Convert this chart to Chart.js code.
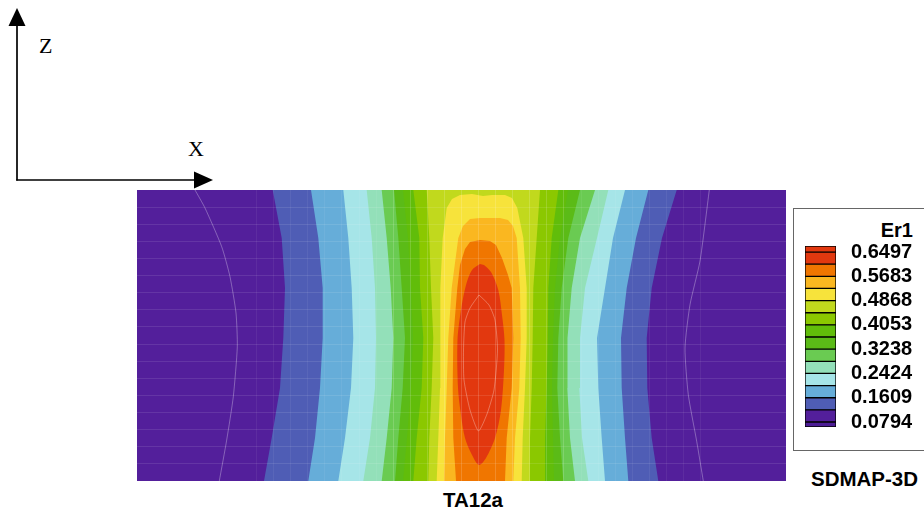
<!DOCTYPE html>
<html>
<head>
<meta charset="utf-8">
<script src="https://cdn.jsdelivr.net/npm/chart.js@4.4.0/dist/chart.umd.min.js"></script>
<style>
  body { margin: 0; width: 924px; height: 512px; background: #fff; position: relative; overflow: hidden; }
  canvas { position: absolute; }
  #mapChart { left: 137px; top: 190px; }
  #barChart { left: 805px; top: 236px; }
  .lbl { position: absolute; white-space: nowrap; line-height: 1; color: #000; }
  .sans { font-family: "Liberation Sans", Arial, sans-serif; font-weight: bold; }
  .serif { font-family: "Liberation Serif", "Times New Roman", serif; font-size: 22px; }
  #legendBox { position: absolute; left: 793px; top: 208px; width: 140px; height: 243px; border: 1px solid #666; box-sizing: border-box; }
</style>
</head>
<body>
<svg width="230" height="195" style="position:absolute;left:0;top:0">
  <line x1="17" y1="24" x2="17" y2="180.5" stroke="#000" stroke-width="1.7"/>
  <polygon points="17,8 8.5,26 25.5,26" fill="#000"/>
  <line x1="16.2" y1="180" x2="196" y2="180" stroke="#000" stroke-width="1.7"/>
  <polygon points="213,180 194,171.5 194,188.5" fill="#000"/>
</svg>
<div class="lbl serif" style="left:39px;top:35px">Z</div>
<div class="lbl serif" style="left:188px;top:138px">X</div>
<div id="legendBox"></div>
<div class="lbl sans" style="right:11px;top:220px;font-size:20px">Er1</div>
<div class="lbl sans" style="left:811px;top:469px;font-size:20.5px">SDMAP-3D</div>
<div class="lbl sans" style="left:443px;top:490px;font-size:20.5px">TA12a</div>
<canvas id="mapChart" width="649" height="291"></canvas>
<canvas id="barChart" width="119" height="201"></canvas>
<script>
// contour levels of Er1 and the colour of each band above a level
const levels = [0.0794, 0.1201, 0.1609, 0.2016, 0.2424, 0.2831, 0.3238, 0.3646, 0.4053, 0.4461, 0.4868, 0.5276, 0.5683, 0.6090, 0.6497];
const bandColors = ['#531f9b', '#4f5db5', '#66add9', '#a6e5e8', '#93e0b9', '#6acb52', '#5bbb17', '#61bd0a',
                    '#8bc800', '#c1d91d', '#f7e33b', '#fab720', '#f07600', '#e2380f'];
const capLow = '#4c1c95';
const capHigh = '#e2380f';
const tickLabels = ['0.0794', '0.1609', '0.2424', '0.3238', '0.4053', '0.4868', '0.5683', '0.6497'];

// section size (mm)
const xMax = 64.9;
const zMax = 29.1;

// heights where the strip boundaries were read
const zRows = [29.1, 24.3, 19.3, 14.3, 9.3, 4.3, 0];

// x of level 0.1201 ... 0.4461 left of the peak, one row per level
const leftBounds = [
  [13.57, 14.47, 14.8, 14.63, 14.3, 13.47, 12.7],
  [17.4, 18.13, 18.57, 18.57, 18.3, 17.8, 17.13],
  [20.63, 21.13, 21.47, 21.63, 21.4, 20.8, 20.13],
  [22.97, 23.47, 23.8, 23.9, 23.8, 23.3, 22.63],
  [24.47, 24.97, 25.37, 25.63, 25.47, 24.97, 24.47],
  [25.7, 26.13, 26.47, 26.8, 26.57, 26.13, 25.8],
  [26.6, 27.1, 27.4, 27.6, 27.4, 27.0, 26.6],
  [27.63, 28.23, 28.3, 28.63, 28.47, 27.97, 27.63],
  [28.97, 29.23, 29.4, 29.63, 29.47, 29.23, 29.13]
];
// same levels, right of the peak
const rightBounds = [
  [53.97, 52.5, 51.47, 50.97, 51.03, 51.47, 52.13],
  [51.13, 49.9, 48.97, 48.4, 48.47, 48.8, 49.13],
  [48.8, 47.6, 46.8, 46.0, 46.13, 46.47, 46.8],
  [47.13, 46.0, 44.8, 44.3, 44.23, 44.5, 45.13],
  [45.8, 44.3, 43.47, 43.05, 43.03, 43.3, 43.8],
  [44.3, 43.13, 42.47, 42.13, 42.03, 42.3, 42.63],
  [43.1, 42.3, 41.8, 41.6, 41.5, 41.6, 41.7],
  [42.13, 41.47, 41.13, 41.07, 40.97, 40.8, 40.8],
  [40.3, 39.97, 39.63, 39.57, 39.47, 39.3, 39.3]
];

// closed outlines of the upper levels (x, z)
const level4868 = [[29.97, 0], [30.13, 4.3], [30.3, 9.3], [30.3, 14.3], [30.37, 19.3], [30.57, 24.3], [30.97, 27.3],
  [31.5, 28.2], [32.3, 28.6], [33.5, 28.7], [34.6, 28.5], [35.5, 28.6], [36.8, 28.6], [37.5, 28.3], [38.03, 27.3],
  [38.63, 24.3], [38.97, 19.3], [38.97, 14.3], [38.8, 9.3], [38.57, 4.3], [38.47, 0]];
const level5276 = [[30.7, 0], [30.8, 4.3], [30.97, 9.3], [31.13, 14.3], [31.47, 19.3], [32.13, 24.3], [32.6, 25.5],
  [33.3, 26.2], [34.3, 26.3], [36.3, 26.3], [37.1, 26.1], [37.6, 25.5], [37.97, 24.3], [38.3, 19.3], [38.37, 14.3],
  [38.23, 9.3], [37.8, 4.3], [37.63, 0]];
const level5683 = [[31.9, 0], [31.63, 4.3], [31.57, 9.3], [31.63, 14.3], [32.03, 19.3], [32.3, 21.6], [32.8, 23.2],
  [33.3, 23.9], [34.3, 24.1], [35.3, 24.0], [35.9, 23.6], [36.5, 22.3], [37.1, 20.6], [37.47, 19.3], [37.63, 14.3],
  [37.47, 9.3], [36.97, 4.3], [36.8, 0]];
const level6090 = [[34.3, 21.7], [33.5, 21.1], [32.9, 19.6], [32.4, 17.1], [32.05, 14.1], [32.1, 9.3], [32.4, 6.6],
  [32.8, 4.3], [33.5, 2.6], [34.2, 1.6], [34.9, 2.3], [35.8, 4.3], [36.4, 7.1], [36.7, 11.1], [36.75, 14.1],
  [36.5, 16.6], [36.13, 19.1], [35.4, 20.9], [34.7, 21.6]];
const level6497 = [[34.2, 18.6], [33.3, 17.3], [32.8, 15.9], [32.65, 13.1], [32.7, 10.1], [33.3, 7.1], [34.15, 5.0],
  [35.0, 6.7], [35.7, 9.1], [36.05, 13.1], [35.8, 16.1], [35.2, 17.6], [34.2, 18.6]];
// level 0.0794, same colour on both sides, only its line shows
const level0794Left = [[5.8, 29.1], [6.8, 27.3], [8.47, 23.43], [9.3, 20.43], [9.9, 16.8], [10.03, 13.43], [9.63, 8.43], [8.97, 4.1], [8.23, 0]];
const level0794Right = [[57.23, 29.1], [56.3, 22.0], [55.3, 17.63], [54.8, 13.3], [55.13, 8.63], [55.97, 3.97], [56.63, 0]];

const pts = arr => arr.map(p => ({ x: p[0], y: p[1] }));

function strip(i) {
  const out = [];
  zRows.forEach((z, k) => out.push({ x: leftBounds[i][k], y: z }));
  for (let k = zRows.length - 1; k >= 0; k--) out.push({ x: rightBounds[i][k], y: zRows[k] });
  return out;
}

function area(data, color, tension) {
  return { data, showLine: true, fill: 'shape', backgroundColor: color, borderColor: 'rgba(0,0,0,0)',
           borderWidth: 1, pointRadius: 0, pointHoverRadius: 0, tension: tension || 0 };
}
function contourLine(data) {
  return { data, showLine: true, fill: false, borderColor: 'rgba(255,255,255,0.3)', borderWidth: 1,
           pointRadius: 0, pointHoverRadius: 0, tension: 0.2 };
}

// lowest first, then reversed so the highest level is painted last
const mapSets = [];
mapSets.push(area([{ x: 0, y: 0 }, { x: 0, y: zMax }, { x: xMax, y: zMax }, { x: xMax, y: 0 }], bandColors[0]));
leftBounds.forEach((b, i) => mapSets.push(area(strip(i), bandColors[i + 1])));
mapSets.push(area(pts(level4868), bandColors[10]));
mapSets.push(area(pts(level5276), bandColors[11]));
mapSets.push(area(pts(level5683), bandColors[12]));
mapSets.push(area(pts(level6090), bandColors[13], 0.3));
mapSets.push(contourLine(pts(level6497)));
mapSets.push(contourLine(pts(level0794Left)));
mapSets.push(contourLine(pts(level0794Right)));
mapSets.reverse();

// finite element mesh, faint over the bands; mostly seen near the peak
const meshX = ctx => {
  const k = ctx.index;
  if (k >= 15 && k <= 25) return 'rgba(255,255,255,0.16)';
  if (k >= 7 && k <= 33) return 'rgba(255,255,255,0.06)';
  return 'rgba(255,255,255,0)';
};

new Chart(document.getElementById('mapChart'), {
  type: 'scatter',
  data: { datasets: mapSets },
  options: {
    responsive: false,
    animation: false,
    layout: { padding: 0 },
    plugins: { legend: { display: false }, tooltip: { enabled: false } },
    scales: {
      x: {
        type: 'linear', min: 0, max: xMax,
        afterBuildTicks: s => { s.ticks = Array.from({ length: 39 }, (_, k) => ({ value: k * xMax / 38 })); },
        ticks: { display: false },
        grid: { color: meshX, drawTicks: false, z: 1 },
        border: { display: false }
      },
      y: {
        type: 'linear', min: 0, max: zMax,
        afterBuildTicks: s => { s.ticks = Array.from({ length: 18 }, (_, k) => ({ value: k * zMax / 17 })); },
        ticks: { display: false },
        grid: { color: ctx => (ctx.index === 0 || ctx.index === 17) ? 'rgba(255,255,255,0)' : 'rgba(255,255,255,0.1)', drawTicks: false, z: 1 },
        border: { display: false }
      }
    }
  }
});

// colour bar: one floating bar per band, plus the two end caps
const step = levels[1] - levels[0];
const barBands = [[levels[0] - step * 0.41, levels[0]]];
for (let i = 0; i < levels.length - 1; i++) barBands.push([levels[i], levels[i + 1]]);
barBands.push([levels[levels.length - 1], levels[levels.length - 1] + step * 0.5]);
const barColors = [capLow].concat(bandColors, [capHigh]);

new Chart(document.getElementById('barChart'), {
  type: 'bar',
  data: {
    labels: ['Er1'],
    datasets: barBands.map((b, i) => ({
      data: [b], backgroundColor: barColors[i], borderColor: '#000', borderWidth: 1,
      borderSkipped: false, barPercentage: 1, categoryPercentage: 1, grouped: false
    }))
  },
  options: {
    responsive: false,
    animation: false,
    layout: { padding: { top: 10, bottom: 10, left: 0, right: 0 } },
    plugins: { legend: { display: false }, tooltip: { enabled: false } },
    scales: {
      x: { display: false },
      y: {
        position: 'right',
        min: barBands[0][0], max: barBands[barBands.length - 1][1],
        afterBuildTicks: s => { s.ticks = tickLabels.map(t => ({ value: Number(t) })); },
        afterFit: s => { s.width = 88; s.paddingTop = 0; s.paddingBottom = 0; },
        ticks: {
          autoSkip: false, callback: (v, i) => tickLabels[i], color: '#000', padding: 15,
          font: { family: '"Liberation Sans", Arial, sans-serif', weight: 'bold', size: 20 }
        },
        grid: { display: false, drawTicks: false },
        border: { display: false }
      }
    }
  }
});
</script>
</body>
</html>
